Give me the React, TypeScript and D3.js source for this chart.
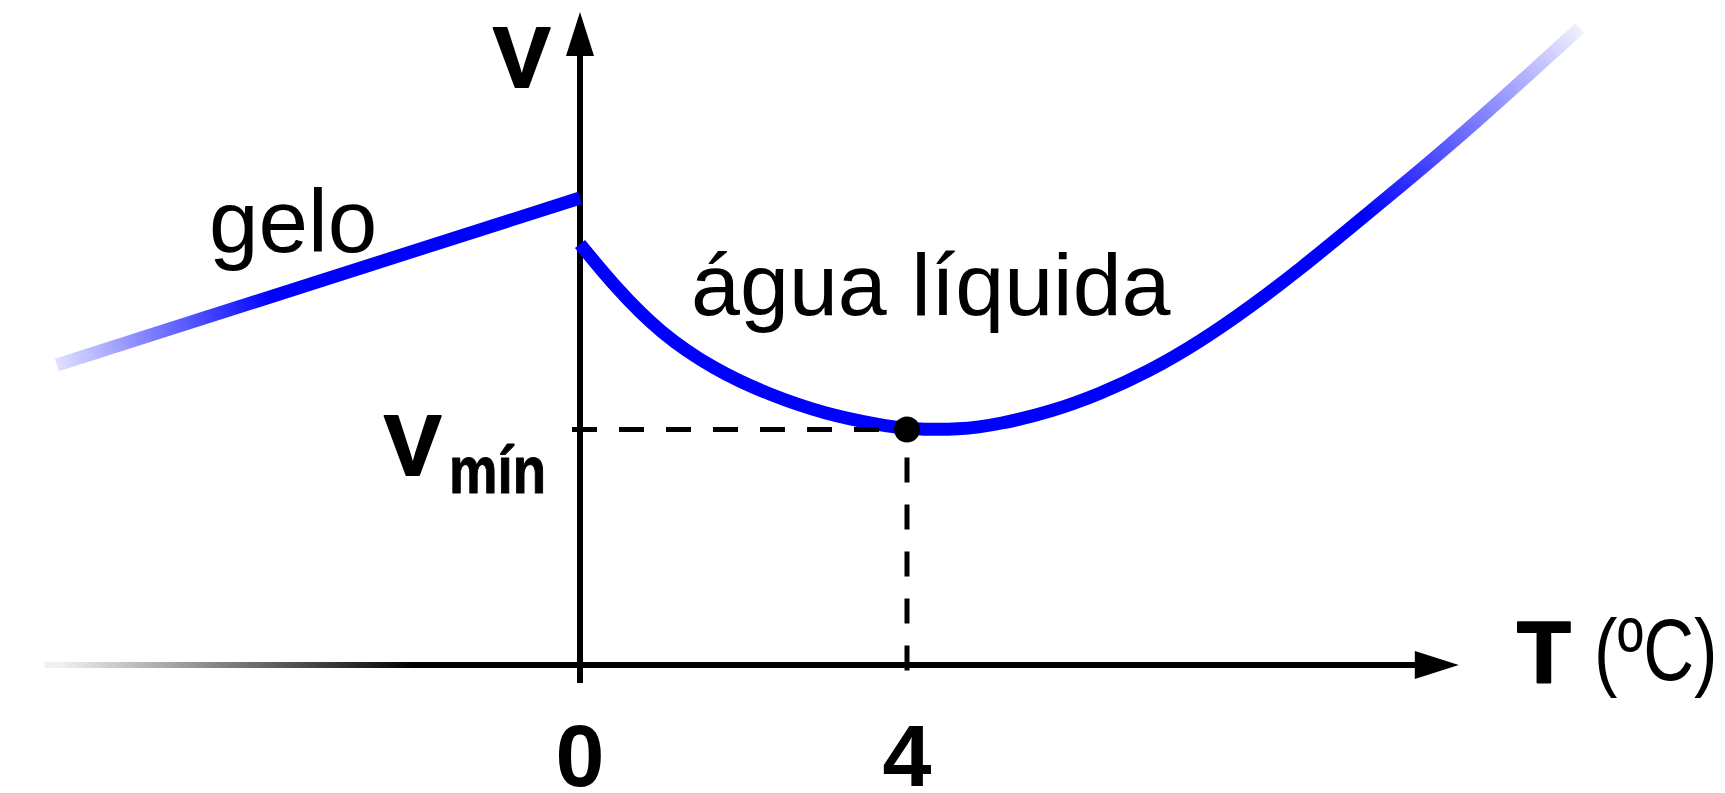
import React from "react";
import * as d3 from "d3";

// ---- data (T in °C, V in arbitrary volume units) ----
const iceT = [-6.4, 0];
const iceV = [30.0, 46.7];

const waterT = [0, 0.44, 0.98, 1.65, 2.32, 3.0, 3.67, 4.0, 4.65, 5.14, 5.75, 6.36, 6.97, 7.58, 8.2, 8.81, 9.42, 10.03, 10.64, 11.25, 12.23];
const waterV = [42.1, 37.7, 33.2, 29.5, 27.0, 25.1, 24.0, 23.6, 23.5, 24.1, 25.3, 27.1, 29.4, 32.3, 35.8, 39.6, 43.7, 47.8, 52.0, 56.4, 63.7];

const tickValues = [0, 4];
const tickLabels = ["0", "4"];

const minT = 4;
const minV = 23.55;

const xAxisExtent = [-6.55, 10.75];
const yAxisExtent = [-1.8, 65.3];

const W = 1725;
const H = 793;

export default function App() {
  const x = d3.scaleLinear().domain([0, 4]).range([580, 907]);
  const y = d3.scaleLinear().domain([0, 65]).range([665, 15]);

  const iceLine = d3
    .line<[number, number]>()
    .x((d) => x(d[0]))
    .y((d) => y(d[1]));

  const waterLine = d3
    .line<[number, number]>()
    .x((d) => x(d[0]))
    .y((d) => y(d[1]))
    .curve(d3.curveBasis);

  const icePts: [number, number][] = iceT.map((t, i) => [t, iceV[i]]);
  const waterPts: [number, number][] = waterT.map((t, i) => [t, waterV[i]]);

  const x0 = x(0);
  const y0 = y(0);
  const arrowLen = 44;
  const arrowHalf = 14;

  const xAxisStart = x(xAxisExtent[0]);
  const xAxisTip = x(xAxisExtent[1]);
  const yAxisTip = y(yAxisExtent[1]);
  const yAxisBottom = y(yAxisExtent[0]);

  const font = "'Liberation Sans', Arial, Helvetica, sans-serif";
  const blue = "#0000ff";

  const iceStart = icePts[0];
  const waterEnd = waterPts[waterPts.length - 1];

  return (
    <svg
      width={W}
      height={H}
      style={{ position: "absolute", left: 0, top: 0, background: "#fff" }}
    >
      <defs>
        <linearGradient
          id="axisFade"
          gradientUnits="userSpaceOnUse"
          x1={xAxisStart + 16}
          y1={y0}
          x2={xAxisStart + 370}
          y2={y0}
        >
          <stop offset="0" stopColor="#000" stopOpacity={0.06} />
          <stop offset="1" stopColor="#000" stopOpacity={1} />
        </linearGradient>
        <linearGradient
          id="iceFade"
          gradientUnits="userSpaceOnUse"
          x1={x(iceStart[0])}
          y1={y(iceStart[1])}
          x2={x(iceStart[0]) + 215}
          y2={y(iceStart[1]) - 68}
        >
          <stop offset="0" stopColor={blue} stopOpacity={0.12} />
          <stop offset="1" stopColor={blue} stopOpacity={1} />
        </linearGradient>
        <linearGradient
          id="waterFade"
          gradientUnits="userSpaceOnUse"
          x1={x(waterEnd[0]) - 215}
          y1={y(waterEnd[1]) + 190}
          x2={x(waterEnd[0]) + 4}
          y2={y(waterEnd[1]) - 4}
        >
          <stop offset="0" stopColor={blue} stopOpacity={1} />
          <stop offset="1" stopColor={blue} stopOpacity={0.04} />
        </linearGradient>
      </defs>

      {/* x axis */}
      <line
        x1={xAxisStart}
        y1={y0}
        x2={xAxisTip - arrowLen + 2}
        y2={y0}
        stroke="url(#axisFade)"
        strokeWidth={6}
      />
      <polygon
        points={`${xAxisTip},${y0} ${xAxisTip - arrowLen},${y0 - arrowHalf} ${xAxisTip - arrowLen},${y0 + arrowHalf}`}
        fill="#000"
      />

      {/* y axis */}
      <line
        x1={x0}
        y1={yAxisBottom}
        x2={x0}
        y2={yAxisTip + arrowLen - 2}
        stroke="#000"
        strokeWidth={6}
      />
      <polygon
        points={`${x0},${yAxisTip} ${x0 - arrowHalf},${yAxisTip + arrowLen} ${x0 + arrowHalf},${yAxisTip + arrowLen}`}
        fill="#000"
      />

      {/* ice line */}
      <path
        d={iceLine(icePts) || ""}
        fill="none"
        stroke="url(#iceFade)"
        strokeWidth={13}
        strokeLinecap="butt"
      />

      {/* liquid water curve */}
      <path
        d={waterLine(waterPts) || ""}
        fill="none"
        stroke="url(#waterFade)"
        strokeWidth={13}
        strokeLinecap="butt"
      />

      {/* dashed guides */}
      <line
        x1={x0 - 8}
        y1={y(minV)}
        x2={x(minT)}
        y2={y(minV)}
        stroke="#000"
        strokeWidth={5}
        strokeDasharray="25 22"
      />
      <line
        x1={x(minT)}
        y1={y(minV) + 28}
        x2={x(minT)}
        y2={y0 + 6}
        stroke="#000"
        strokeWidth={5}
        strokeDasharray="25 22"
      />
      <circle cx={x(minT)} cy={y(minV)} r={13} fill="#000" />

      {/* tick labels */}
      {tickValues.map((t, i) => (
        <text
          key={t}
          x={x(t)}
          y={786}
          textAnchor="middle"
          fontFamily={font}
          fontWeight="bold"
          fontSize={88}
          fill="#000"
        >
          {tickLabels[i]}
        </text>
      ))}

      {/* axis titles */}
      <text
        x={493}
        y={87}
        fontFamily={font}
        fontWeight="bold"
        fontSize={86}
        fill="#000"
        stroke="#000"
        strokeWidth={2}
        strokeLinejoin="round"
      >
        V
      </text>
      <text
        x={1517}
        y={682}
        fontFamily={font}
        fontWeight="bold"
        fontSize={88}
        fill="#000"
        stroke="#000"
        strokeWidth={2}
        strokeLinejoin="round"
      >
        T
      </text>
      <g transform="translate(1594,680) scale(0.8,1)">
        <text x={0} y={0} fontFamily={font} fontSize={88} fill="#000">
          (ºC)
        </text>
      </g>

      {/* Vmin label */}
      <text
        x={384}
        y={475}
        fontFamily={font}
        fontWeight="bold"
        fontSize={86}
        fill="#000"
        stroke="#000"
        strokeWidth={2}
        strokeLinejoin="round"
      >
        V
      </text>
      <text
        x={449}
        y={493}
        fontFamily={font}
        fontWeight="bold"
        fontSize={66}
        fill="#000"
        stroke="#000"
        strokeWidth={1}
        strokeLinejoin="round"
        textLength={97}
        lengthAdjust="spacingAndGlyphs"
      >
        mín
      </text>

      {/* phase labels */}
      <text x={209} y={252} fontFamily={font} fontSize={89} fill="#000">
        gelo
      </text>
      <text x={691} y={315} fontFamily={font} fontSize={88} fill="#000">
        água líquida
      </text>
    </svg>
  );
}
